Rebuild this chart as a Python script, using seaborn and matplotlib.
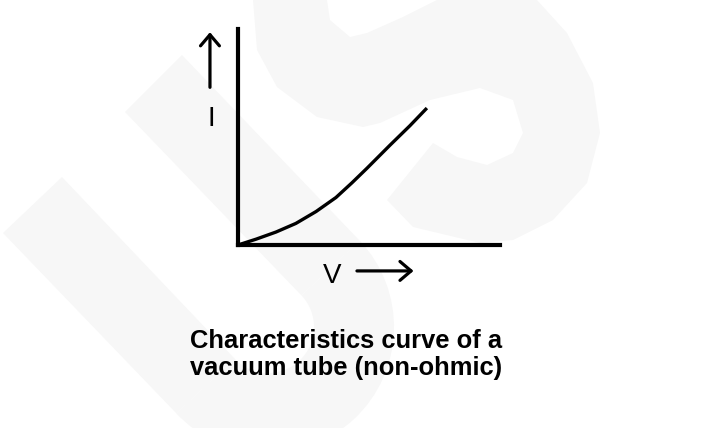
import numpy as np
import matplotlib
matplotlib.use("Agg")
import matplotlib.pyplot as plt
import seaborn as sns
from matplotlib.patches import Polygon, Wedge

# Curve (V and I in arbitrary units, axes run 0..10)
voltage = [0, 0.69, 1.45, 2.21, 2.98, 3.74, 4.35, 4.92, 5.80, 6.56, 7.21]
current = [0, 0.27, 0.60, 1.00, 1.55, 2.20, 2.88, 3.55, 4.62, 5.52, 6.34]

caption_lines = ["Characteristics curve of a", "vacuum tube (non-ohmic)"]

# faint watermark outline in pixels (y measured from the top)
wm_u_left = [(3, 233), (62, 177), (234.6, 358.6), (176.4, 413.4)]
wm_u_right = [(125, 112), (182, 55), (359.6, 240.6), (301.4, 295.4)]
wm_s = [(253, 0), (257, 50), (277, 87), (317, 117), (363, 127), (380, 123),
        (430, 100), (480, 88), (513, 100), (523, 133), (513, 153), (487, 165),
        (457, 157), (433, 143), (387, 200), (413, 227), (480, 243), (513, 240),
        (553, 220), (587, 183), (600, 133), (593, 83), (567, 33), (537, 0),
        (437, 0), (403, 17), (367, 33), (350, 37), (330, 20), (327, 0)]

sns.set_theme(style="white")
plt.rcParams["font.family"] = ["Liberation Sans", "DejaVu Sans"]
plt.rcParams["text.color"] = "black"

W, H = 706, 428
fig = plt.figure(figsize=(W / 100, H / 100), dpi=100)
fig.patch.set_facecolor("white")

# Background watermark
bg = fig.add_axes([0, 0, 1, 1], zorder=0)
bg.set_xlim(0, W)
bg.set_ylim(0, H)
bg.axis("off")
wm_color = "#f7f7f7"
for pts in (wm_u_left, wm_u_right, wm_s):
    bg.add_patch(Polygon([(x, H - y) for x, y in pts], closed=True,
                         facecolor=wm_color, edgecolor="none"))
bg.add_patch(Wedge((268, H - 327), 126, 223.3, 43.3, width=80,
                   facecolor=wm_color, edgecolor="none"))

# Main axes: x 238..500 px, y 245..29 px
ax = fig.add_axes([238 / W, (H - 245) / H, 262 / W, 216 / H], zorder=1)
ax.set_facecolor("none")
ax.set_xlim(0, 10)
ax.set_ylim(0, 10)
sns.despine(ax=ax)
for side in ("left", "bottom"):
    ax.spines[side].set_linewidth(3)
    ax.spines[side].set_color("black")
    ax.spines[side].set_capstyle("projecting")
ax.set_xticks([])
ax.set_yticks([])

sns.lineplot(x=voltage, y=current, ax=ax, color="black", linewidth=2.4,
             sort=False, estimator=None, clip_on=False,
             solid_capstyle="butt", solid_joinstyle="round", legend=False)

arrow_kw = dict(arrowstyle="->,head_length=0.4,head_width=0.34",
                color="black", lw=2.3, mutation_scale=20,
                shrinkA=0, shrinkB=0)
# I arrow (upwards) and V arrow (rightwards)
ax.annotate("", xy=(-1.07, 9.85), xytext=(-1.07, 7.3),
            arrowprops=arrow_kw, annotation_clip=False)
ax.annotate("", xy=(6.7, -1.2), xytext=(4.54, -1.2),
            arrowprops=arrow_kw, annotation_clip=False)

ax.text(-1.01, 5.51, "I", fontsize=20, color="black", ha="center",
        va="baseline", clip_on=False)
ax.text(3.59, -1.76, "V", fontsize=20, color="black", ha="center",
        va="baseline", clip_on=False)

fig.text(346.5 / W, (H - 348) / H, caption_lines[0], fontsize=18.4,
         fontweight="bold", color="black", ha="center", va="baseline")
fig.text(346.5 / W, (H - 375) / H, caption_lines[1], fontsize=18.4,
         fontweight="bold", color="black", ha="center", va="baseline")

fig.savefig("out.png", dpi=100, facecolor="white")
